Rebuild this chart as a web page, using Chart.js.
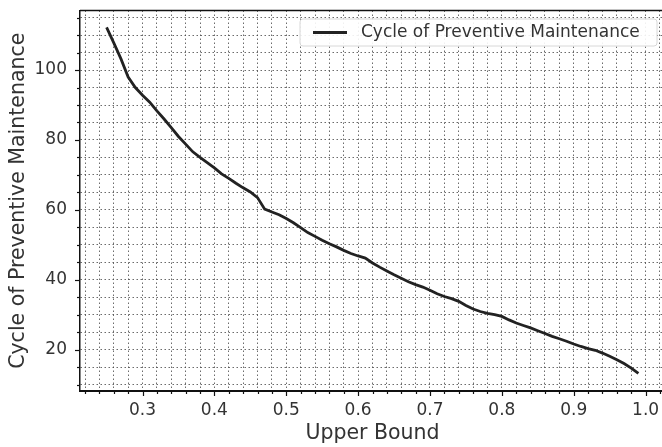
<!DOCTYPE html>
<html>
<head>
<meta charset="utf-8">
<script src="https://cdn.jsdelivr.net/npm/chart.js@4/dist/chart.umd.min.js"></script>
<style>
  html, body { margin: 0; padding: 0; background: #fff; overflow: hidden; }
  #wrap { position: relative; width: 668px; height: 447px; }
</style>
</head>
<body>
<div id="wrap"><canvas id="chart" width="668" height="447"></canvas></div>
<script>
// Upper bound of the reliability threshold (x) and the resulting PM cycle (y)
const upperBound = [
  0.25, 0.26, 0.27, 0.28, 0.29, 0.30, 0.31, 0.32, 0.33, 0.34,
  0.35, 0.36, 0.37, 0.38, 0.39, 0.40, 0.41, 0.42, 0.43, 0.44,
  0.45, 0.46, 0.47, 0.48, 0.49, 0.50, 0.51, 0.52, 0.53, 0.54,
  0.55, 0.56, 0.57, 0.58, 0.59, 0.60, 0.61, 0.62, 0.63, 0.64,
  0.65, 0.66, 0.67, 0.68, 0.69, 0.70, 0.71, 0.72, 0.73, 0.74,
  0.75, 0.76, 0.77, 0.78, 0.79, 0.80, 0.81, 0.82, 0.83, 0.84,
  0.85, 0.86, 0.87, 0.88, 0.89, 0.90, 0.91, 0.92, 0.93, 0.94,
  0.95, 0.96, 0.97, 0.98, 0.99
];
const pmCycle = [
  112.2, 107.8, 103.2, 98.0, 95.0, 92.8, 90.8, 88.3, 86.0, 83.5,
  81.0, 78.8, 76.6, 75.0, 73.5, 72.0, 70.3, 69.0, 67.6, 66.3,
  65.1, 63.5, 60.2, 59.4, 58.6, 57.5, 56.3, 54.9, 53.5, 52.4,
  51.3, 50.3, 49.4, 48.4, 47.5, 46.8, 46.2, 44.8, 43.6, 42.5,
  41.4, 40.4, 39.4, 38.6, 37.9, 37.0, 36.0, 35.2, 34.6, 33.8,
  32.6, 31.6, 30.9, 30.4, 30.0, 29.5, 28.5, 27.6, 26.9, 26.2,
  25.4, 24.6, 23.8, 23.1, 22.4, 21.6, 20.9, 20.3, 19.8, 19.0,
  18.1, 17.1, 16.0, 14.7, 13.2
];
const seriesName = 'Cycle of Preventive Maintenance';
const xTitle = 'Upper Bound';
const yTitle = 'Cycle of Preventive Maintenance';

// labelled (major) ticks and the finer grid steps between them
const xMajorTicks = [0.3, 0.4, 0.5, 0.6, 0.7, 0.8, 0.9, 1.0];
const yMajorTicks = [20, 40, 60, 80, 100];
const xMinorStep = 0.02;
const yMinorStep = 5;

const FONT = "'DejaVu Sans', sans-serif";
const INK = '#333';

function isMajor(list, v) {
  return list.some(m => Math.abs(m - v) < 1e-6);
}
function stepTicks(min, max, step) {
  const out = [];
  const start = Math.ceil(min / step - 1e-9);
  for (let i = start; i * step <= max + 1e-9; i++) {
    out.push({ value: +(i * step).toFixed(6) });
  }
  return out;
}

// tick marks (long for labelled ticks, short for the fine grid), frame and legend box
const framePlugin = {
  id: 'frame',
  afterDraw(chart) {
    const { ctx, chartArea: a, scales } = chart;
    ctx.save();
    ctx.strokeStyle = '#111';
    ctx.lineWidth = 1.2;
    scales.x.ticks.forEach(t => {
      const px = Math.round(scales.x.getPixelForValue(t.value)) + 0.5;
      const len = isMajor(xMajorTicks, t.value) ? 5 : 3;
      ctx.beginPath(); ctx.moveTo(px, a.bottom); ctx.lineTo(px, a.bottom + len); ctx.stroke();
    });
    scales.y.ticks.forEach(t => {
      const py = Math.round(scales.y.getPixelForValue(t.value)) + 0.5;
      const len = isMajor(yMajorTicks, t.value) ? 5 : 3;
      ctx.beginPath(); ctx.moveTo(a.left - len, py); ctx.lineTo(a.left, py); ctx.stroke();
    });
    // top and right edges of the axes frame
    ctx.lineWidth = 1.5;
    ctx.beginPath();
    ctx.moveTo(a.left, a.top); ctx.lineTo(a.right, a.top); ctx.lineTo(a.right, a.bottom);
    ctx.stroke();

    // legend in the upper right corner of the plot
    const ds = chart.data.datasets[0];
    const bx = a.left + 220, by = a.top + 8.5, bw = 357, bh = 27;
    ctx.fillStyle = 'rgba(255,255,255,0.9)';
    ctx.strokeStyle = '#d8d8d8';
    ctx.lineWidth = 1;
    ctx.beginPath();
    ctx.roundRect(bx, by, bw, bh, 3);
    ctx.fill(); ctx.stroke();
    const cy = by + bh / 2;
    ctx.strokeStyle = ds.borderColor;
    ctx.lineWidth = ds.borderWidth;
    ctx.beginPath(); ctx.moveTo(bx + 13, cy); ctx.lineTo(bx + 47, cy); ctx.stroke();
    ctx.fillStyle = INK;
    ctx.font = '17px ' + FONT;
    ctx.textBaseline = 'middle';
    ctx.textAlign = 'left';
    ctx.fillText(ds.label, bx + 61, cy);
    ctx.restore();
  }
};

new Chart(document.getElementById('chart'), {
  type: 'line',
  data: {
    datasets: [{
      label: seriesName,
      data: upperBound.map((x, i) => ({ x, y: pmCycle[i] })),
      borderColor: '#222',
      borderWidth: 2.8,
      pointRadius: 0,
      tension: 0,
      fill: false
    }]
  },
  options: {
    responsive: false,
    animation: false,
    events: [],
    layout: { padding: { top: 10.5, right: 3, left: 0, bottom: 0 } },
    plugins: { legend: { display: false }, tooltip: { enabled: false } },
    scales: {
      x: {
        type: 'linear',
        min: 0.213,
        max: 1.027,
        afterBuildTicks(scale) { scale.ticks = stepTicks(scale.min, scale.max, xMinorStep); },
        afterFit(scale) {
          scale.height = 56;
          scale.paddingLeft = 0;
          scale.paddingRight = 0;
        },
        ticks: {
          autoSkip: false,
          maxRotation: 0,
          padding: 9,
          color: INK,
          font: { family: FONT, size: 17 },
          callback: v => isMajor(xMajorTicks, v) ? v.toFixed(1) : ''
        },
        grid: {
          drawTicks: false,
          color: 'rgba(70,70,70,0.8)',
          lineWidth: 1
        },
        border: { display: true, color: '#111', width: 2, dash: [1.5, 2.5] },
        title: {
          display: true,
          text: xTitle,
          color: INK,
          font: { family: FONT, size: 20.5 },
          padding: { top: 0, bottom: 1 }
        }
      },
      y: {
        type: 'linear',
        min: 8.15,
        max: 117.05,
        afterBuildTicks(scale) { scale.ticks = stepTicks(scale.min, scale.max, yMinorStep); },
        afterFit(scale) {
          scale.width = 80;
          scale.paddingTop = 0;
          scale.paddingBottom = 0;
        },
        ticks: {
          autoSkip: false,
          padding: 13,
          color: INK,
          font: { family: FONT, size: 17 },
          callback: v => isMajor(yMajorTicks, v) ? String(v) : ''
        },
        grid: {
          drawTicks: false,
          color: 'rgba(70,70,70,0.8)',
          lineWidth: 1
        },
        border: { display: true, color: '#111', width: 1.5, dash: [1.5, 2.5] },
        title: {
          display: true,
          text: yTitle,
          color: INK,
          font: { family: FONT, size: 20.5 },
          padding: { top: 6, bottom: 0 }
        }
      }
    }
  },
  plugins: [framePlugin]
});
</script>
</body>
</html>
